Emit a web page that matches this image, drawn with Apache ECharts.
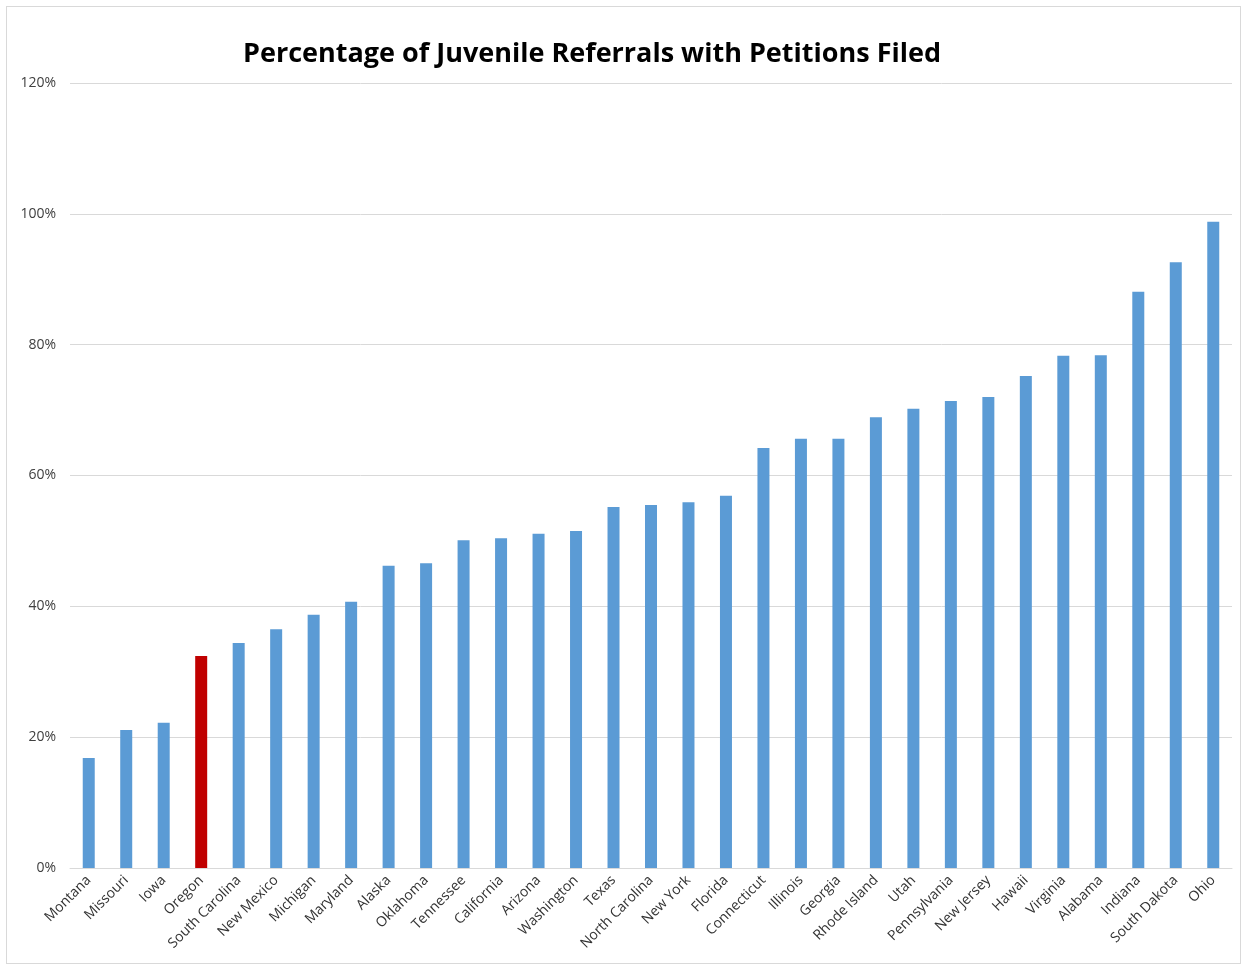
<!DOCTYPE html>
<html>
<head>
<meta charset="utf-8">
<script src="https://cdn.jsdelivr.net/npm/echarts@6/dist/echarts.min.js"></script>
<style>
html,body{margin:0;padding:0;background:#fff;}
#frame{position:absolute;left:6px;top:6px;width:1235px;height:958px;border:1px solid #d9d9d9;box-sizing:border-box;}
#chart{position:absolute;left:0;top:0;width:1248px;height:970px;}
</style>
</head>
<body>
<div id="frame"></div>
<div id="chart"></div>
<script>
const categories = ["Montana","Missouri","Iowa","Oregon","South Carolina","New Mexico","Michigan","Maryland","Alaska","Oklahoma","Tennessee","California","Arizona","Washington","Texas","North Carolina","New York","Florida","Connecticut","Illinois","Georgia","Rhode Island","Utah","Pennsylvania","New Jersey","Hawaii","Virginia","Alabama","Indiana","South Dakota","Ohio"];
const values = [16.8,21.1,22.2,32.4,34.4,36.5,38.7,40.7,46.2,46.6,50.1,50.4,51.1,51.5,55.2,55.5,55.9,56.9,64.2,65.6,65.6,68.9,70.2,71.4,72.0,75.2,78.3,78.4,88.1,92.6,98.8];
const highlight = "Oregon";
const yTicks = {min:0, max:120, interval:20};

const chart = echarts.init(document.getElementById('chart'));
chart.setOption({
  animation:false,
  title:{text:"Percentage of Juvenile Referrals with Petitions Filed", left:587, top:36, textAlign:'center',
    textStyle:{fontFamily:"Open Sans", fontWeight:'bold', fontSize:27, color:'#000'}},
  grid:{left:70, right:16, top:83, bottom:102, containLabel:false},
  xAxis:{type:'category', data:categories,
    axisLine:{lineStyle:{color:'#d9d9d9'}}, axisTick:{show:false},
    axisLabel:{rotate:45, interval:0, fontFamily:"Open Sans", fontSize:14, color:'#333', margin:10}},
  yAxis:{type:'value', min:yTicks.min, max:yTicks.max, interval:yTicks.interval,
    axisLine:{show:false}, axisTick:{show:false},
    axisLabel:{formatter:'{value}%', fontFamily:"Open Sans", fontSize:14, color:'#404040', margin:14},
    splitLine:{lineStyle:{color:'#d9d9d9'}}},
  series:[{type:'bar', barWidth:12,
    data:values.map((v,i)=>({value:v, itemStyle:{color: categories[i]===highlight ? '#c00000' : '#5b9bd5'}}))}]
});
</script>
</body>
</html>
